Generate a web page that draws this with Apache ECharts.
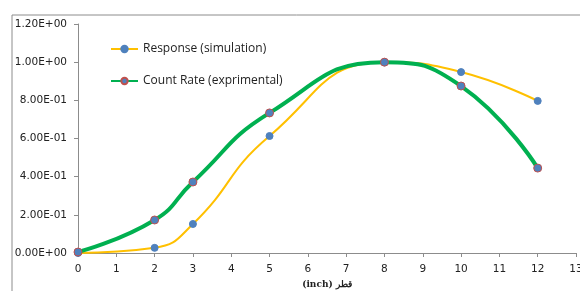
<!DOCTYPE html>
<html><head><meta charset="utf-8">
<script src="https://cdn.jsdelivr.net/npm/echarts@6/dist/echarts.min.js"></script>
<style>html,body{margin:0;padding:0;background:#fff}#c{width:580px;height:291px}</style>
</head><body><div id="c"></div>
<script>
const xValues = [0, 2, 3, 5, 8, 10, 12];
const responseSim = [0.0, 0.027, 0.152, 0.613, 1.0, 0.948, 0.797];
const countRateExp = [0.005, 0.173, 0.372, 0.734, 1.0, 0.875, 0.445];
const seriesNames = ['Response (simulation)', 'Count Rate (exprimental)'];
const xAxisTitle = '(inch) قطر';

function fmtExp(v) {
  if (v === 0) return '0.00E+00';
  let e = Math.floor(Math.log10(Math.abs(v)) + 1e-9);
  let m = v / Math.pow(10, e);
  if (Math.abs(m) >= 9.995) { m /= 10; e += 1; }
  const sign = e < 0 ? '-' : '+';
  const ee = String(Math.abs(e)).padStart(2, '0');
  return m.toFixed(2) + 'E' + sign + ee;
}

const chart = echarts.init(document.getElementById('c'), null, {renderer: 'canvas'});
const font = 'Open Sans, Noto Sans, sans-serif';
const axisFont = 'DejaVu Sans, sans-serif';
chart.setOption({
  animation: false,
  backgroundColor: '#fff',
  graphic: [{
    type: 'rect', shape: {x: 12, y: 15, width: 600, height: 300},
    style: {fill: 'none', stroke: '#8c8c8c', lineWidth: 1}, z: -1
  }],
  grid: {left: 78, right: 4, top: 24, bottom: 38, containLabel: false, outerBoundsMode: 'none'},
  legend: {
    orient: 'vertical', left: 110, top: 43, itemGap: 20, padding: 0,
    itemWidth: 27, itemHeight: 8,
    textStyle: {fontFamily: font, fontSize: 12, color: '#222'},
    data: seriesNames
  },
  xAxis: {
    type: 'value', min: 0, max: 13, interval: 1,
    name: xAxisTitle, nameLocation: 'middle', nameGap: 27,
    nameTextStyle: {fontFamily: 'DejaVu Serif, serif', fontSize: 9, fontWeight: 'bold', color: '#222'},
    axisLine: {show: true, lineStyle: {color: '#8c8c8c'}},
    axisTick: {show: true, inside: false, length: 4, lineStyle: {color: '#8c8c8c'}},
    axisLabel: {fontFamily: axisFont, fontSize: 10.5, color: '#222', margin: 11},
    splitLine: {show: false}
  },
  yAxis: {
    type: 'value', min: 0, max: 1.2, interval: 0.2,
    axisLine: {show: true, lineStyle: {color: '#8c8c8c'}},
    axisTick: {show: true, length: 4, lineStyle: {color: '#8c8c8c'}},
    axisLabel: {fontFamily: axisFont, fontSize: 10.5, color: '#222', margin: 11, formatter: fmtExp},
    splitLine: {show: false}
  },
  series: [
    {
      name: seriesNames[0], type: 'line', smooth: 0.5, smoothConstraint: false,
      data: xValues.map((x, i) => [x, responseSim[i]]),
      lineStyle: {color: '#FFC000', width: 2},
      itemStyle: {color: '#4F81BD', borderColor: '#4F81BD', borderWidth: 1},
      symbol: 'circle', symbolSize: 7, z: 2
    },
    {
      name: seriesNames[1], type: 'line', smooth: 0.5, smoothConstraint: false,
      data: xValues.map((x, i) => [x, countRateExp[i]]),
      lineStyle: {color: '#00B050', width: 4},
      itemStyle: {color: '#4F81BD', borderColor: '#C0504D', borderWidth: 1},
      symbol: 'circle', symbolSize: 8, z: 3
    }
  ]
});
</script></body></html>
